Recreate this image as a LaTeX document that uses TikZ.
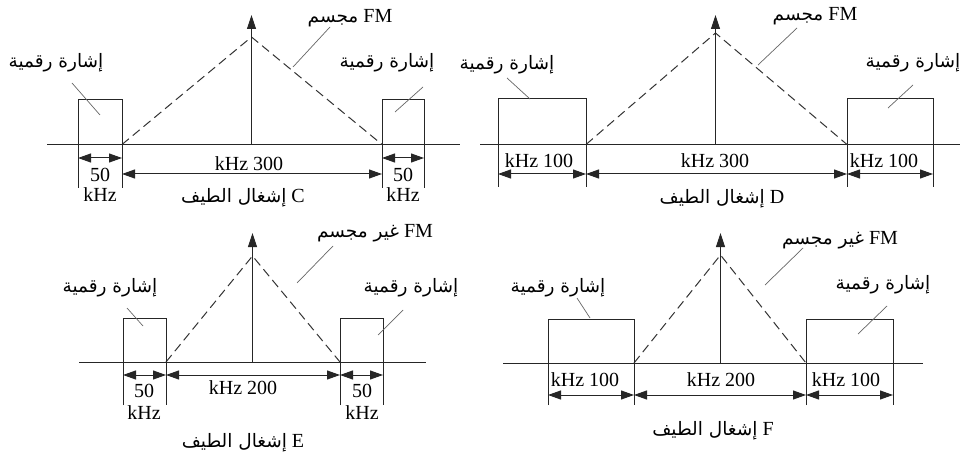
\documentclass[tikz,border=0pt]{standalone}
\usepackage{fontspec}
\setmainfont{Liberation Serif}
\newfontfamily\arabicfont[Script=Arabic]{DejaVu Sans}
\TeXXeTstate=1
\usetikzlibrary{arrows.meta}
\newcommand\artxt[1]{{\arabicfont\fontsize{18.5}{20}\selectfont\beginR #1\endR}}
\tikzset{
  ln/.style={draw=black!85, line width=1pt},
  dsh/.style={draw=black!80, line width=1pt, dash pattern=on 9pt off 5pt},
  lead/.style={draw=black!60, line width=0.7pt},
  vup/.style={draw=black!85, line width=0.9pt, -{Triangle[length=14pt,width=9pt]}},
  dim/.style={draw=black!85, line width=1pt, {Triangle[length=13pt,width=9pt]}-{Triangle[length=13pt,width=9pt]}},
  lbl/.style={inner sep=0pt, font=\fontsize{20}{22}\selectfont},
}
\begin{document}
\begin{tikzpicture}[x=1pt,y=-1pt]
\useasboundingbox[fill=white] (0,0) rectangle (961,457);

% ================= Panel C =================
\coordinate (cA1) at (47,144.5); \coordinate (cA2) at (460,144.5);
\coordinate (cV0) at (251.5,144.5); \coordinate (cV1) at (251.5,15);
\coordinate (cT1) at (122,144.5); \coordinate (cTp) at (251.5,37); \coordinate (cT2) at (382,144.5);
\coordinate (cL1) at (78,188); \coordinate (cL2) at (78,100); \coordinate (cL3) at (122,100); \coordinate (cL4) at (122,188);
\coordinate (cR1) at (382,188); \coordinate (cR2) at (382,100); \coordinate (cR3) at (424,100); \coordinate (cR4) at (424,188);
\draw[ln] (cA1) -- (cA2);
\draw[dsh] (cT1) -- (cTp) -- (cT2);
\draw[vup] (cV0) -- (cV1);
\draw[ln] (cL1) -- (cL2) -- (cL3) -- (cL4);
\draw[ln] (cR1) -- (cR2) -- (cR3) -- (cR4);
\coordinate (cd1) at (78,158); \coordinate (cd2) at (122,158);
\coordinate (cd3) at (382,158); \coordinate (cd4) at (424,158);
\coordinate (cd5) at (122,174); \coordinate (cd6) at (382,174);
\draw[dim] (cd1) -- (cd2);
\draw[dim] (cd3) -- (cd4);
\draw[dim] (cd5) -- (cd6);
\node[lbl] (c50a) at (100,175) {50};
\node[lbl] (ckHza) at (100,195) {kHz};
\node[lbl] (c50b) at (403,175) {50};
\node[lbl] (ckHzb) at (403,195) {kHz};
\node[lbl] (c300) at (249,164) {kHz 300};
\node[lbl] (ccap) at (243,198) {\artxt{إشغال الطيف} C};
\node[lbl] (cfm) at (350,18) {\artxt{مجسم} FM};
\node[lbl] (csl) at (56,63) {\artxt{إشارة رقمية}};
\node[lbl] (csr) at (387,63) {\artxt{إشارة رقمية}};
\coordinate (cf1) at (330,27); \coordinate (cf2) at (293,67);
\coordinate (cl1) at (72,83); \coordinate (cl2) at (100,115);
\coordinate (cr1) at (423,87); \coordinate (cr2) at (395,112);
\draw[lead] (cf1) -- (cf2);
\draw[lead] (cl1) -- (cl2);
\draw[lead] (cr1) -- (cr2);

% ================= Panel D =================
\coordinate (dA1) at (480,144.5); \coordinate (dA2) at (960,144.5);
\coordinate (dV0) at (715.5,144.5); \coordinate (dV1) at (715.5,15);
\coordinate (dT1) at (586,144.5); \coordinate (dTp) at (715.5,33); \coordinate (dT2) at (847,144.5);
\coordinate (dL1) at (498,187); \coordinate (dL2) at (498,99); \coordinate (dL3) at (586,99); \coordinate (dL4) at (586,187);
\coordinate (dR1) at (847,187); \coordinate (dR2) at (847,99); \coordinate (dR3) at (933,99); \coordinate (dR4) at (933,187);
\draw[ln] (dA1) -- (dA2);
\draw[dsh] (dT1) -- (dTp) -- (dT2);
\draw[vup] (dV0) -- (dV1);
\draw[ln] (dL1) -- (dL2) -- (dL3) -- (dL4);
\draw[ln] (dR1) -- (dR2) -- (dR3) -- (dR4);
\coordinate (dd1) at (498,174); \coordinate (dd2) at (586,174);
\coordinate (dd3) at (847,174); \coordinate (dd4) at (933,174);
\draw[dim] (dd1) -- (dd2);
\draw[dim] (dd2) -- (dd3);
\draw[dim] (dd3) -- (dd4);
\node[lbl] (d100a) at (539,161) {kHz 100};
\node[lbl] (d300) at (715,161) {kHz 300};
\node[lbl] (d100b) at (884,161) {kHz 100};
\node[lbl] (dcap) at (722,199) {\artxt{إشغال الطيف} D};
\node[lbl] (dfm) at (815,16) {\artxt{مجسم} FM};
\node[lbl] (dsl) at (507,65) {\artxt{إشارة رقمية}};
\node[lbl] (dsr) at (913,63) {\artxt{إشارة رقمية}};
\coordinate (df1) at (797,28); \coordinate (df2) at (758,65);
\coordinate (dl1) at (507,78); \coordinate (dl2) at (530,99);
\coordinate (dr1) at (913,85); \coordinate (dr2) at (888,108);
\draw[lead] (df1) -- (df2);
\draw[lead] (dl1) -- (dl2);
\draw[lead] (dr1) -- (dr2);

% ================= Panel E =================
\coordinate (eA1) at (79,362); \coordinate (eA2) at (426,362);
\coordinate (eV0) at (252.5,362); \coordinate (eV1) at (252.5,233);
\coordinate (eT1) at (166,362); \coordinate (eTp) at (252.5,256); \coordinate (eT2) at (340,362);
\coordinate (eL1) at (123,405); \coordinate (eL2) at (123,318); \coordinate (eL3) at (166,318); \coordinate (eL4) at (166,405);
\coordinate (eR1) at (340,405); \coordinate (eR2) at (340,318); \coordinate (eR3) at (383,318); \coordinate (eR4) at (383,405);
\draw[ln] (eA1) -- (eA2);
\draw[dsh] (eT1) -- (eTp) -- (eT2);
\draw[vup] (eV0) -- (eV1);
\draw[ln] (eL1) -- (eL2) -- (eL3) -- (eL4);
\draw[ln] (eR1) -- (eR2) -- (eR3) -- (eR4);
\coordinate (ed1) at (123,375); \coordinate (ed2) at (166,375);
\coordinate (ed3) at (340,375); \coordinate (ed4) at (383,375);
\draw[dim] (ed1) -- (ed2);
\draw[dim] (ed2) -- (ed3);
\draw[dim] (ed3) -- (ed4);
\node[lbl] (e50a) at (144,391) {50};
\node[lbl] (ekHza) at (144,413) {kHz};
\node[lbl] (e50b) at (362,391) {50};
\node[lbl] (ekHzb) at (362,413) {kHz};
\node[lbl] (e200) at (243,388) {kHz 200};
\node[lbl] (ecap) at (243,443) {\artxt{إشغال الطيف} E};
\node[lbl] (efm) at (375,233) {\artxt{غير مجسم} FM};
\node[lbl] (esl) at (110,288) {\artxt{إشارة رقمية}};
\node[lbl] (esr) at (411,288) {\artxt{إشارة رقمية}};
\coordinate (ef1) at (333,246); \coordinate (ef2) at (297,283);
\coordinate (el1) at (127,308); \coordinate (el2) at (143,326);
\coordinate (er1) at (403,310); \coordinate (er2) at (378,335);
\draw[lead] (ef1) -- (ef2);
\draw[lead] (el1) -- (el2);
\draw[lead] (er1) -- (er2);

% ================= Panel F =================
\coordinate (fA1) at (503,363); \coordinate (fA2) at (923,363);
\coordinate (fV0) at (720.5,363); \coordinate (fV1) at (720.5,233);
\coordinate (fT1) at (634,363); \coordinate (fTp) at (720.5,255); \coordinate (fT2) at (806,363);
\coordinate (fL1) at (548,405); \coordinate (fL2) at (548,319); \coordinate (fL3) at (634,319); \coordinate (fL4) at (634,405);
\coordinate (fR1) at (806,405); \coordinate (fR2) at (806,319); \coordinate (fR3) at (893,319); \coordinate (fR4) at (893,405);
\draw[ln] (fA1) -- (fA2);
\draw[dsh] (fT1) -- (fTp) -- (fT2);
\draw[vup] (fV0) -- (fV1);
\draw[ln] (fL1) -- (fL2) -- (fL3) -- (fL4);
\draw[ln] (fR1) -- (fR2) -- (fR3) -- (fR4);
\coordinate (fd1) at (548,395); \coordinate (fd2) at (634,395);
\coordinate (fd3) at (806,395); \coordinate (fd4) at (893,395);
\draw[dim] (fd1) -- (fd2);
\draw[dim] (fd2) -- (fd3);
\draw[dim] (fd3) -- (fd4);
\node[lbl] (f100a) at (585,380) {kHz 100};
\node[lbl] (f200) at (721,380) {kHz 200};
\node[lbl] (f100b) at (846,380) {kHz 100};
\node[lbl] (fcap) at (713,431) {\artxt{إشغال الطيف} F};
\node[lbl] (ffm) at (840,240) {\artxt{غير مجسم} FM};
\node[lbl] (fsl) at (558,288) {\artxt{إشارة رقمية}};
\node[lbl] (fsr) at (883,285) {\artxt{إشارة رقمية}};
\coordinate (ff1) at (803,248); \coordinate (ff2) at (765,285);
\coordinate (fl1) at (577,298); \coordinate (fl2) at (590,318);
\coordinate (fr1) at (887,306); \coordinate (fr2) at (858,334);
\draw[lead] (ff1) -- (ff2);
\draw[lead] (fl1) -- (fl2);
\draw[lead] (fr1) -- (fr2);
\end{tikzpicture}
\end{document}
